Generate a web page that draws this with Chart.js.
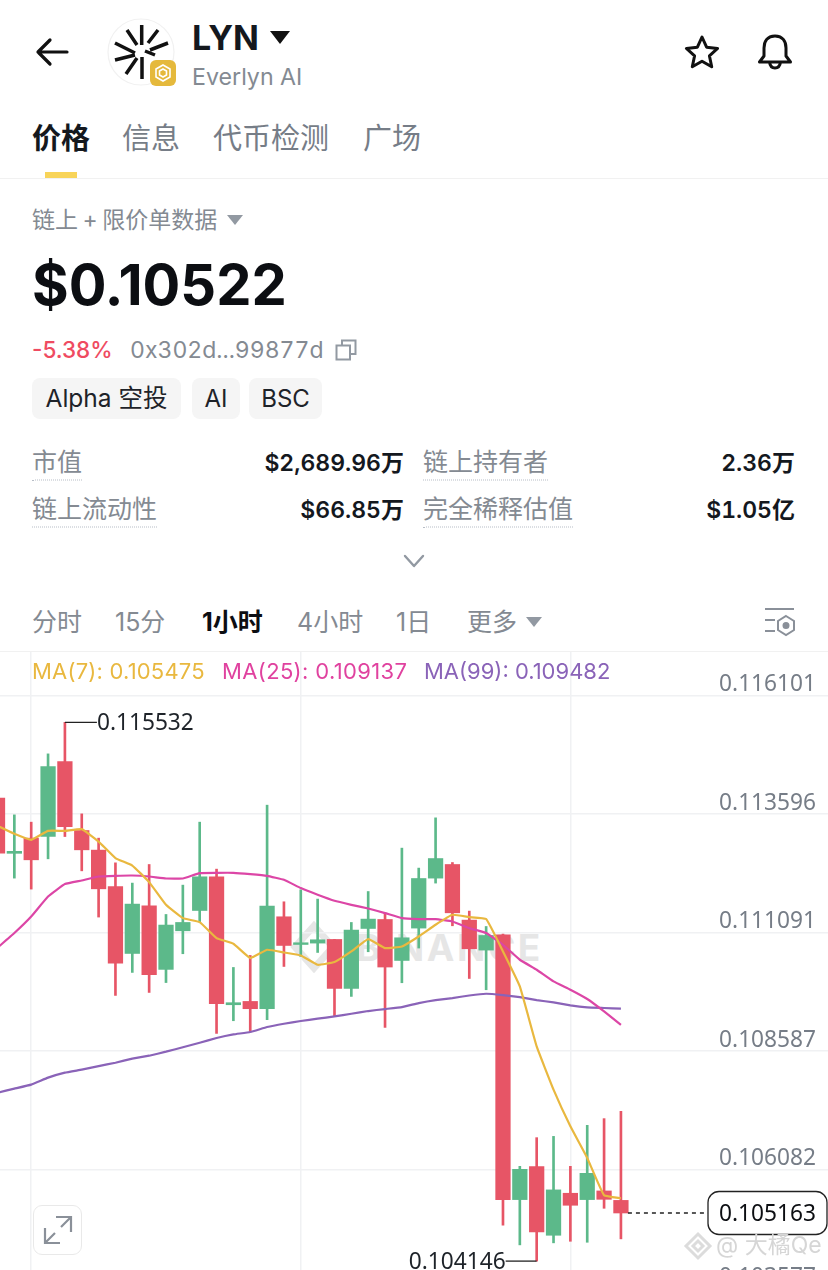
<!DOCTYPE html>
<html lang="zh">
<head>
<meta charset="utf-8">
<title>LYN</title>
<script src="https://cdn.jsdelivr.net/npm/chart.js@4"></script>
<style>
html,body{margin:0;padding:0;width:828px;height:1270px;overflow:hidden;background:#fff}
body{position:relative;font-family:Inter,"Noto Sans CJK SC",sans-serif;color:#1e2329}
.t{position:absolute;white-space:nowrap;line-height:1;transform:translateY(-50%)}
.g{color:#848a92}
.n{font-variant-numeric:tabular-nums}
.r{transform:translate(-100%,-50%);font-weight:600;color:#14181e;font-variant-numeric:tabular-nums}
.u{border-bottom:1.5px dotted #b7bdc6;padding-bottom:5px;transform:translateY(calc(-50% + 3px))}
.tag{position:absolute;top:378px;height:41px;line-height:41px;background:#f5f5f5;border-radius:8px;text-align:center;font-size:24px;color:#1e2329;white-space:nowrap}
svg{position:absolute;overflow:visible}
#wrap{position:absolute;left:0;top:652px;width:828px;height:648px}
</style>
</head>
<body>
<svg style="left:36px;top:38px" width="34" height="28" fill="none" stroke="#111" stroke-width="3.2" stroke-linecap="round" stroke-linejoin="round"><path d="M2 14H31M14 2L2 14L14 26"/></svg>
<svg style="left:108px;top:19px" width="68" height="68"><circle cx="33" cy="33" r="33" fill="#fff" stroke="#f1f1f1" stroke-width="1.2"/><g stroke="#111" stroke-width="3.5"><path d="M33.700 6V26M50 11L40 24M60 24L42 31M37 32L47 36M19 11L29 26M7 24L27 34M7 41L27 36M18 55L29 39M34 60V38"/></g></svg>
<svg style="left:150px;top:60px" width="26" height="26"><rect width="26" height="26" rx="6" fill="#e5b93c"/><path d="M13 5L20 9V17L13 21L6 17V9ZM13 9L16.5 11V15L13 17L9.5 15V11Z" fill="none" stroke="#fff" stroke-width="1.6"/></svg>
<div class="t" style="left:192px;top:38px;font-size:34px;font-weight:700;color:#14181e">LYN</div>
<svg style="left:270px;top:31px" width="20" height="13"><path d="M0 0H20L10 13Z" fill="#111"/></svg>
<div class="t g" style="left:192px;top:78px;font-size:23.2px">Everlyn AI</div>
<svg style="left:684px;top:34px" width="36" height="36" fill="none" stroke="#111" stroke-width="3" stroke-linejoin="round"><path d="M18 3L22.6 13.2L33.6 14.4L25.4 21.8L27.7 32.8L18 27.2L8.3 32.8L10.6 21.8L2.4 14.4L13.4 13.2Z"/></svg>
<svg style="left:757px;top:33px" width="36" height="37" fill="none" stroke="#111" stroke-width="3" stroke-linejoin="round" stroke-linecap="round"><path d="M18 3C10 3 7 9 7 15V23L2.5 29H33.5L29 23V15C29 9 26 3 18 3ZM12.5 29C13 33 15 35 18 35S23 33 23.5 29"/></svg>

<div class="t" style="left:32px;top:138px;font-size:29px;font-weight:700;color:#14181e">价格</div>
<div class="t" style="left:122px;top:138px;font-size:29px;color:#767d87">信息</div>
<div class="t" style="left:213px;top:138px;font-size:29px;color:#767d87">代币检测</div>
<div class="t" style="left:363px;top:138px;font-size:29px;color:#767d87">广场</div>
<div style="position:absolute;left:45px;top:172px;width:32px;height:6px;background:#f8d459"></div>
<div style="position:absolute;left:0;top:178px;width:828px;height:1px;background:#f1f1f1"></div>

<div class="t g" style="left:32px;top:220px;font-size:23px;word-spacing:-2px">链上 + 限价单数据</div>
<svg style="left:227px;top:215px" width="16" height="10"><path d="M0 0H16L8 10Z" fill="#9299a2"/></svg>
<div class="t" style="left:32px;top:285px;font-size:56px;font-weight:700;color:#0c0e12">$0.10522</div>
<div class="t" style="left:32px;top:350px;font-size:22.5px;font-weight:500;color:#ef4b61">-5.38%</div>
<div class="t g n" style="left:130px;top:350px;font-size:23px">0x302d...99877d</div>
<svg style="left:335px;top:339px" width="22" height="22" fill="none" stroke="#9299a2" stroke-width="2"><path d="M7 6V1.5H20.5V15H15"/><rect x="1.5" y="6.5" width="13.5" height="14"/></svg>
<div class="tag" style="left:32px;width:149px;font-size:24.5px">Alpha 空投</div>
<div class="tag" style="left:192px;width:48px">AI</div>
<div class="tag" style="left:249px;width:73px">BSC</div>

<div class="t g u" style="left:32px;top:462px;font-size:25px">市值</div>
<div class="t r" style="left:404px;top:463px;font-size:23px">$2,689.96万</div>
<div class="t g u" style="left:423px;top:462px;font-size:25px">链上持有者</div>
<div class="t r" style="left:795px;top:463px;font-size:23px">2.36万</div>
<div class="t g u" style="left:32px;top:509px;font-size:25px">链上流动性</div>
<div class="t r" style="left:404px;top:510px;font-size:23px">$66.85万</div>
<div class="t g u" style="left:423px;top:509px;font-size:25px">完全稀释估值</div>
<div class="t r" style="left:795px;top:510px;font-size:23px">$1.05亿</div>
<svg style="left:403px;top:554px" width="22" height="14" fill="none" stroke="#9299a2" stroke-width="2.4" stroke-linecap="round" stroke-linejoin="round"><path d="M2 2L11 12L20 2"/></svg>

<div class="t g" style="left:32px;top:622px;font-size:25px">分时</div>
<div class="t g" style="left:115px;top:622px;font-size:25px">15分</div>
<div class="t" style="left:202px;top:622px;font-size:25px;font-weight:700;color:#0c0e12">1小时</div>
<div class="t g" style="left:297px;top:622px;font-size:25px">4小时</div>
<div class="t g" style="left:396px;top:622px;font-size:25px">1日</div>
<div class="t g" style="left:467px;top:622px;font-size:25px">更多</div>
<svg style="left:526px;top:617px" width="16" height="10"><path d="M0 0H16L8 10Z" fill="#9299a2"/></svg>
<svg style="left:764px;top:607px" width="32" height="30" fill="none" stroke="#8a9099" stroke-width="2"><path d="M1 2H30M1 13H11M1 24H11"/><path d="M22 9L30 14V23L22 28L14 23V14Z"/><circle cx="22" cy="18.500" r="2.500" fill="#8a9099"/></svg>
<div style="position:absolute;left:0;top:651px;width:828px;height:1px;background:#f1f1f1"></div>

<!-- marca de agua bajo el canvas -->
<svg style="left:292px;top:923px" width="44" height="48" fill="none" stroke="#e6e6e6" stroke-width="7"><path d="M22 3L41 24L22 45L3 24Z"/></svg>
<div class="t" style="left:356px;top:947px;font-size:37px;font-weight:700;color:#e6e6e6;letter-spacing:2.600px">BINANCE</div>

<div id="wrap"><canvas id="grafica"></canvas></div>

<div class="t" style="left:32px;top:671px;font-size:22px;letter-spacing:.2px;color:#e9b83f">MA(7): 0.105475</div>
<div class="t" style="left:222px;top:671px;font-size:22px;letter-spacing:.35px;color:#e0429f">MA(25): 0.109137</div>
<div class="t" style="left:424px;top:671px;font-size:22px;color:#8a63b8">MA(99): 0.109482</div>

<div style="position:absolute;left:33px;top:1205px;width:47px;height:48px;background:#fff;border:1.5px solid #e9e9e9;border-radius:9px"></div>
<svg style="left:44px;top:1216px" width="28" height="28" fill="none" stroke="#8a9099" stroke-width="2.2"><path d="M1 12V27H16M1 27L11 17M27 16V1H12M27 1L17 11"/></svg>

<svg style="left:684px;top:1232px" width="28" height="28" fill="none" stroke="#dcdcdc" stroke-width="3"><path d="M14 2L26 14L14 26L2 14Z"/><path d="M14 9L19 14L14 19L9 14Z"/></svg>
<div class="t" style="left:716px;top:1245px;font-size:23px;color:#d6d6d6">@ 大橘Qe</div>

<script>
const candleIndex = [0,1,2,3,4,5,6,7,8,9,10,11,12,13,14,15,16,17,18,19,20,21,22,23,24,25,26,27,28,29,30,31,32,33,34,35,36,37];

const opens = [0.113930,0.112764,0.113085,0.113119,0.114703,0.113246,0.112832,0.112063,0.110648,0.111655,0.110311,0.111127,0.111556,0.112268,0.109564,0.109634,0.109480,0.111423,0.110838,0.110867,0.110944,0.109909,0.111176,0.111366,0.110500,0.111184,0.112240,0.112528,0.111353,0.110719,0.111043,0.105446,0.106143,0.104692,0.105580,0.105446,0.105629,0.105429];
const closes = [0.112768,0.112806,0.112627,0.114597,0.113330,0.112838,0.112014,0.110445,0.111691,0.110198,0.111248,0.111303,0.112268,0.109586,0.109607,0.109480,0.111649,0.110817,0.110874,0.110937,0.109909,0.111142,0.111374,0.110361,0.110979,0.112232,0.112654,0.111507,0.110747,0.111028,0.105446,0.106086,0.104764,0.105651,0.105326,0.106001,0.105452,0.105163];
const highs = [0.114105,0.113577,0.113423,0.114866,0.115532,0.113598,0.113085,0.112563,0.112135,0.112528,0.111472,0.112092,0.113423,0.112430,0.110352,0.110606,0.113782,0.111740,0.111993,0.111797,0.110944,0.111303,0.111957,0.111501,0.112874,0.112452,0.113514,0.112570,0.111543,0.111218,0.111058,0.106149,0.106755,0.106782,0.106149,0.107015,0.107157,0.107311];
const lows = [0.112627,0.112240,0.112008,0.112648,0.113119,0.112394,0.111417,0.109761,0.110247,0.109824,0.110033,0.110642,0.111312,0.108958,0.109226,0.108988,0.109248,0.110373,0.110584,0.110669,0.109317,0.109740,0.110684,0.109085,0.110029,0.110762,0.112135,0.111233,0.110119,0.109881,0.104903,0.104489,0.104146,0.104532,0.104565,0.104544,0.105262,0.104616];

const ma7 = [0.113345,0.113176,0.113049,0.113239,0.113239,0.113275,0.113013,0.112663,0.112506,0.112156,0.111676,0.111395,0.111311,0.110973,0.110853,0.110551,0.110726,0.110669,0.110606,0.110409,0.110466,0.110690,0.110952,0.110762,0.110796,0.111007,0.111254,0.111465,0.111417,0.111374,0.110690,0.109951,0.108683,0.107769,0.106994,0.106327,0.105537,0.105475];
const ma25 = [0.110768,0.111079,0.111429,0.111852,0.112114,0.112190,0.112274,0.112289,0.112295,0.112274,0.112232,0.112232,0.112346,0.112352,0.112352,0.112325,0.112289,0.112204,0.112029,0.111888,0.111761,0.111676,0.111598,0.111501,0.111395,0.111374,0.111374,0.111324,0.111184,0.111079,0.110832,0.110515,0.110304,0.110057,0.109881,0.109685,0.109423,0.109137];
const ma99 = [0.107706,0.107790,0.107875,0.108023,0.108128,0.108192,0.108266,0.108339,0.108424,0.108487,0.108572,0.108667,0.108762,0.108861,0.108937,0.108988,0.109093,0.109163,0.109220,0.109269,0.109317,0.109374,0.109431,0.109473,0.109515,0.109599,0.109663,0.109705,0.109760,0.109796,0.109768,0.109726,0.109663,0.109613,0.109550,0.109508,0.109495,0.109482];

const yTicks = [0.116101,0.113596,0.111091,0.108587,0.106082,0.103577];
const xGrid = [2,18,34];

const VERDE = '#5cb98a';
const ROJO = '#e75566';
const FUENTE_NUM = '"Noto Sans"';
const colores = candleIndex.map(i => closes[i] >= opens[i] ? VERDE : ROJO);

// etiquetas de maximo, minimo y ultimo precio
const etiquetas = {
    id: 'etiquetas',
    afterDatasetsDraw(chart) {
        const { ctx, scales: { x, y } } = chart;
        const maxI = highs.indexOf(Math.max(...highs));
        const minI = lows.indexOf(Math.min(...lows));
        const ultimo = closes[closes.length - 1];
        const ajuste = 1.5; // la fuente queda alta con textBaseline middle

        ctx.save();
        ctx.font = '22.7px ' + FUENTE_NUM;
        ctx.textBaseline = 'middle';
        ctx.fillStyle = '#1e2329';
        ctx.strokeStyle = '#222';
        ctx.lineWidth = 1.3;

        const xMax = x.getPixelForValue(maxI), yMax = y.getPixelForValue(highs[maxI]);
        ctx.beginPath(); ctx.moveTo(xMax, yMax); ctx.lineTo(xMax + 32, yMax); ctx.stroke();
        ctx.textAlign = 'left';
        ctx.fillText(highs[maxI].toFixed(6), xMax + 32, yMax + ajuste);

        const xMin = x.getPixelForValue(minI), yMin = y.getPixelForValue(lows[minI]);
        ctx.beginPath(); ctx.moveTo(xMin, yMin); ctx.lineTo(xMin - 31, yMin); ctx.stroke();
        ctx.textAlign = 'right';
        ctx.fillText(lows[minI].toFixed(6), xMin - 31, yMin + ajuste);

        const yUlt = y.getPixelForValue(ultimo);
        ctx.setLineDash([4, 4]);
        ctx.beginPath();
        ctx.moveTo(x.getPixelForValue(candleIndex.length - 1) + 7, yUlt);
        ctx.lineTo(708, yUlt);
        ctx.stroke();
        ctx.setLineDash([]);

        ctx.fillStyle = '#fff';
        ctx.beginPath();
        ctx.roundRect(708, yUlt - 21.5, 119, 43, 11);
        ctx.fill();
        ctx.stroke();
        ctx.fillStyle = '#0c0e12';
        ctx.textAlign = 'center';
        ctx.fillText(ultimo.toFixed(6), 767.5, yUlt + ajuste);
        ctx.restore();
    }
};

const lineaMA = (label, data, color) => ({
    type: 'line',
    label,
    data: candleIndex.map(i => ({ x: i, y: data[i] })),
    borderColor: color,
    borderWidth: 2.2,
    pointRadius: 0,
    tension: 0.1,
    order: 0
});

// sin margenes: el area del grafico ocupa todo el canvas
const sinMargen = ax => {
    ax.paddingTop = ax.paddingBottom = ax.paddingLeft = ax.paddingRight = 0;
    if (ax.isHorizontal()) ax.height = 0; else ax.width = 0;
};

new Chart(document.getElementById('grafica'), {
    type: 'bar',
    data: {
        datasets: [
            lineaMA('MA(7)', ma7, '#e9b83f'),
            lineaMA('MA(25)', ma25, '#dc46a6'),
            lineaMA('MA(99)', ma99, '#8a63b8'),
            {
                label: 'cuerpo',
                data: candleIndex.map(i => ({ x: i, y: [opens[i], closes[i]] })),
                backgroundColor: colores,
                barThickness: 14.6,
                grouped: false,
                order: 1
            },
            {
                label: 'mecha',
                data: candleIndex.map(i => ({ x: i, y: [lows[i], highs[i]] })),
                backgroundColor: colores,
                barThickness: 2,
                grouped: false,
                order: 2
            }
        ]
    },
    options: {
        responsive: true,
        maintainAspectRatio: false,
        animation: false,
        layout: { padding: 0 },
        plugins: { legend: { display: false }, tooltip: { enabled: false } },
        scales: {
            x: {
                type: 'linear',
                offset: false,
                min: 0.148,
                max: 49.29,
                border: { display: false },
                grid: { offset: false, color: '#f0f1f3', lineWidth: 1.5, drawTicks: false },
                ticks: { display: false },
                afterBuildTicks(ax) { ax.ticks = xGrid.map(value => ({ value })); },
                afterFit: sinMargen
            },
            y: {
                position: 'right',
                min: 0.103324,
                max: 0.117019,
                border: { display: false },
                grid: { color: '#f0f1f3', lineWidth: 1.5, drawTicks: false },
                ticks: {
                    mirror: true,
                    padding: -12,
                    labelOffset: -10.5,
                    color: '#767d87',
                    font: { family: 'Noto Sans', size: 22.7 },
                    callback: v => v.toFixed(6)
                },
                afterBuildTicks(ax) { ax.ticks = yTicks.map(value => ({ value })); },
                afterFit: sinMargen
            }
        }
    },
    plugins: [etiquetas]
});
</script>
</body>
</html>
